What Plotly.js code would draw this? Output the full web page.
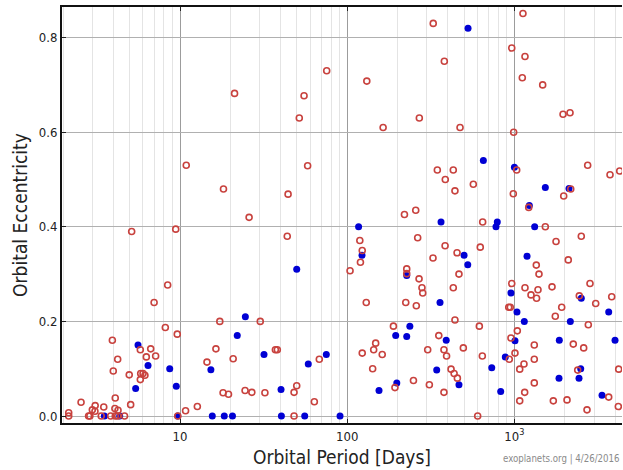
<!DOCTYPE html>
<html>
<head>
<meta charset="utf-8">
<script src="https://cdn.plot.ly/plotly-3.0.1.min.js"></script>
<style>
  html, body { margin: 0; padding: 0; background: #fff; overflow: hidden; }
  #chart { width: 623px; height: 470px; }
</style>
</head>
<body>
<div id="chart"></div>
<script>
// Orbital period [days] and eccentricity
const bluePeriod = [528, 652, 1000, 1531, 2121, 1228, 5.61, 6.44, 8.68, 9.5, 5.43, 3.53, 4.36, 9.7,
  15.3, 15.6, 18.4, 20.6, 22.0, 24.6, 31.8, 40.2, 40.4, 49.9, 55.7, 58.5, 75, 90.6,
  364, 117, 122.6, 500, 526, 227, 359, 237, 195, 227, 391, 343, 466, 198, 155,
  790, 776, 1322, 1190, 2512, 954, 1036, 3664, 1146, 2160, 1008, 1856, 3997, 882, 732,
  2492, 1848, 2434, 828, 3342];
const blueEcc = [0.82, 0.54, 0.526, 0.483, 0.481, 0.445, 0.15, 0.107, 0.10, 0.063, 0.058, 0.0, 0.0, 0.0,
  0.098, 0.0, 0.0, 0.0, 0.17, 0.21, 0.13, 0.056, 0.0, 0.31, 0.0, 0.11, 0.13, 0.0,
  0.41, 0.40, 0.34, 0.34, 0.32, 0.297, 0.24, 0.19, 0.17, 0.168, 0.16, 0.097, 0.066, 0.07, 0.054,
  0.41, 0.40, 0.40, 0.338, 0.249, 0.26, 0.22, 0.22, 0.2, 0.2, 0.159, 0.16, 0.16, 0.125, 0.102,
  0.10, 0.08, 0.08, 0.052, 0.044];

const redPeriod = [10.9, 75.4, 21.2, 55.2, 51.7, 58.0, 18.2, 44.3, 25.9, 327, 381, 131, 270, 164, 473,
  346, 431, 386, 441, 568, 257, 220, 1125, 964, 1157, 1115, 1476, 1954, 2151, 990, 1032, 2743,
  3731, 4262, 2172, 985, 1972, 1218,
  5.14, 9.43, 8.44, 7.0, 8.17, 9.63, 3.94, 5.79, 6.68, 6.29, 7.15, 4.24, 3.99, 5.82, 6.01, 6.17,
  5.79, 4.97, 4.10, 5.07, 2.56, 3.11, 3.50, 4.08, 4.26, 2.99, 3.10, 2.16, 2.16, 2.84, 2.89, 3.38,
  3.85, 4.10, 4.24, 4.66, 9.7, 10.8, 12.7, 14.5, 16.4, 17.3, 18.1, 19.5, 20.8, 24.5, 26.9, 30.2,
  32.2, 37.2, 38.2, 48.1, 48.1, 49.9, 43.8, 63.6, 68.1,
  119, 123, 120, 104, 264, 385, 326, 454, 625, 227, 227, 269, 466, 280, 283, 431, 130, 224, 259,
  441, 617, 189, 353, 148, 144, 123, 162, 303, 379, 393, 495, 643, 142, 418, 436, 456, 193, 249,
  310, 379, 603, 646,
  1531, 1774, 2512, 1352, 1403, 2100, 964, 1157, 1384, 1257, 1357, 1679, 2832, 2444, 3819, 3064,
  925, 945, 1918, 1756, 2767, 1041, 954, 2250, 2596, 1315, 1008, 932, 1315, 1141, 1076, 2391,
  4205, 1315, 1152, 1076, 1709, 2064, 3664, 2718, 4183];
const redEcc = [0.53, 0.73, 0.682, 0.677, 0.63, 0.529, 0.48, 0.469, 0.42, 0.83, 0.75, 0.708, 0.63, 0.61, 0.61,
  0.52, 0.52, 0.50, 0.476, 0.49, 0.435, 0.426, 0.851, 0.778, 0.76, 0.715, 0.70, 0.638, 0.641, 0.60, 0.52, 0.53,
  0.51, 0.518, 0.48, 0.47, 0.465, 0.441,
  0.39, 0.395, 0.277, 0.24, 0.187, 0.173, 0.16, 0.14, 0.142, 0.125, 0.127, 0.12, 0.095, 0.09, 0.09, 0.086,
  0.077, 0.087, 0.038, 0.024, 0.029, 0.022, 0.019, 0.016, 0.012, 0.013, 0.010, 0.007, 0.0, 0.0, 0.0, 0.0,
  0.0, 0.0, 0.0, 0.0, 0.0, 0.011, 0.02, 0.114, 0.142, 0.2, 0.049, 0.046, 0.121, 0.054, 0.05, 0.2,
  0.049, 0.14, 0.14, 0.05, 0.0, 0.064, 0.38, 0.03, 0.12,
  0.371, 0.35, 0.325, 0.307, 0.377, 0.36, 0.334, 0.345, 0.357, 0.311, 0.301, 0.29, 0.30, 0.271, 0.26, 0.271, 0.24, 0.24, 0.233,
  0.203, 0.19, 0.19, 0.17, 0.154, 0.14, 0.133, 0.13, 0.14, 0.14, 0.127, 0.144, 0.127, 0.10, 0.099, 0.09, 0.08, 0.06, 0.075,
  0.066, 0.05, 0.0, 0.41,
  0.40, 0.369, 0.38, 0.319, 0.30, 0.33, 0.28, 0.271, 0.267, 0.256, 0.249, 0.273, 0.28, 0.254, 0.252, 0.238,
  0.23, 0.23, 0.23, 0.211, 0.193, 0.18, 0.165, 0.152, 0.144, 0.15, 0.133, 0.12, 0.12, 0.11, 0.099, 0.097,
  0.099, 0.07, 0.05, 0.032, 0.032, 0.034, 0.04, 0.013, 0.02];

const xTickVals = [10, 100, 1000];
const xTickText = ['10', '100', '10<sup>3</sup>'];
const xMinorVals = [2, 3, 4, 5, 6, 7, 8, 9, 20, 30, 40, 50, 60, 70, 80, 90,
  200, 300, 400, 500, 600, 700, 800, 900, 2000, 3000, 4000];
const yTickVals = [0, 0.2, 0.4, 0.6, 0.8];

const FONT = '"DejaVu Sans Condensed", "DejaVu Sans", sans-serif';

const traces = [
  {
    type: 'scatter', mode: 'markers', x: bluePeriod, y: blueEcc,
    marker: { symbol: 'circle', size: 7, color: '#0000d4', line: { width: 0 } },
    hoverinfo: 'x+y', showlegend: false
  },
  {
    type: 'scatter', mode: 'markers', x: redPeriod, y: redEcc,
    marker: { symbol: 'circle-open', size: 6, color: '#c8423e', line: { width: 1.6, color: '#c8423e' } },
    hoverinfo: 'x+y', showlegend: false
  }
];

const layout = {
  width: 623, height: 470,
  margin: { l: 62, r: 1, t: 7, b: 47, pad: 0 },
  paper_bgcolor: '#ffffff', plot_bgcolor: '#ffffff',
  font: { family: FONT, color: '#222', size: 13 },
  xaxis: {
    type: 'log',
    range: [0.2943, 3.6435],
    tickmode: 'array', tickvals: xTickVals, ticktext: xTickText,
    ticks: 'inside', ticklen: 4, tickwidth: 1, tickcolor: '#222',
    showline: true, linecolor: '#111', linewidth: 2, mirror: 'ticks',
    showgrid: true, gridcolor: '#9c9c9c', gridwidth: 1,
    minor: { tickmode: 'array', tickvals: xMinorVals, showgrid: true, gridcolor: '#e4e4e4', gridwidth: 1, ticks: '' },
    zeroline: false,
    tickfont: { family: FONT, size: 13, color: '#222' },
    title: { text: 'Orbital Period [Days]', font: { family: FONT, size: 19, color: '#222' }, standoff: 8 },
    automargin: false
  },
  yaxis: {
    range: [-0.0148, 0.8647],
    tickmode: 'array', tickvals: yTickVals, tickformat: '.1f',
    ticks: 'inside', ticklen: 4, tickwidth: 1, tickcolor: '#222',
    showline: true, linecolor: '#111', linewidth: 2, mirror: false,
    showgrid: true, gridcolor: '#b0b0b0', gridwidth: 1,
    zeroline: false,
    tickfont: { family: FONT, size: 13, color: '#222' },
    title: { text: 'Orbital Eccentricity', font: { family: FONT, size: 19, color: '#222' }, standoff: 6 },
    automargin: false
  },
  annotations: [
    {
      text: 'exoplanets.org | 4/26/2016', xref: 'paper', yref: 'paper',
      x: 1.0, xanchor: 'right', y: -0.086, yanchor: 'middle', showarrow: false,
      font: { family: FONT, size: 9.6, color: '#8a8a8a' }
    }
  ]
};

Plotly.newPlot('chart', traces, layout, { displayModeBar: false, staticPlot: true });
</script>
</body>
</html>
